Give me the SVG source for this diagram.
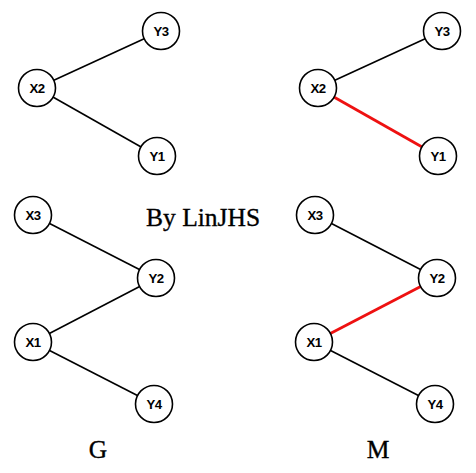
<svg xmlns="http://www.w3.org/2000/svg" width="476" height="473" viewBox="0 0 476 473">
<style>
.edge{stroke:#000;stroke-width:1.6;fill:none}
.match{stroke:#ee1111;stroke-width:2.8;fill:none}
.node circle{fill:#fff;stroke:#000;stroke-width:1.6}
.node text{font-family:"Liberation Sans",Arial,sans-serif;font-weight:bold;font-size:13.2px;text-anchor:middle;dominant-baseline:central;fill:#000;letter-spacing:-0.5px}
.title{font-family:"Liberation Serif","Times New Roman",serif;font-size:25.5px;fill:#000;stroke:#000;stroke-width:0.35}
</style>
<rect width="476" height="473" fill="#fff"/>
<g id="connectors">
<line class="edge" x1="37" y1="88" x2="161" y2="31"/>
<line class="edge" x1="37" y1="88" x2="157" y2="156"/>
<line class="edge" x1="33" y1="215" x2="156" y2="278"/>
<line class="edge" x1="33" y1="342" x2="156" y2="278"/>
<line class="edge" x1="33" y1="342" x2="154" y2="404"/>
<line class="edge" x1="318" y1="88" x2="442" y2="31"/>
<line class="match" x1="318" y1="88" x2="438" y2="156"/>
<line class="edge" x1="315" y1="215" x2="437" y2="278"/>
<line class="match" x1="314" y1="342" x2="437" y2="278"/>
<line class="edge" x1="314" y1="342" x2="435" y2="404"/>
</g>
<g id="G-X2" class="node"><circle cx="37" cy="88" r="18.5"/><text x="37" y="88">X2</text></g>
<g id="G-Y3" class="node"><circle cx="161" cy="31" r="18.5"/><text x="161" y="31">Y3</text></g>
<g id="G-Y1" class="node"><circle cx="157" cy="156" r="18.5"/><text x="157" y="156">Y1</text></g>
<g id="G-X3" class="node"><circle cx="33" cy="215" r="18.5"/><text x="33" y="215">X3</text></g>
<g id="G-Y2" class="node"><circle cx="156" cy="278" r="18.5"/><text x="156" y="278">Y2</text></g>
<g id="G-X1" class="node"><circle cx="33" cy="342" r="18.5"/><text x="33" y="342">X1</text></g>
<g id="G-Y4" class="node"><circle cx="154" cy="404" r="18.5"/><text x="154" y="404">Y4</text></g>
<g id="M-X2" class="node"><circle cx="318" cy="88" r="18.5"/><text x="318" y="88">X2</text></g>
<g id="M-Y3" class="node"><circle cx="442" cy="31" r="18.5"/><text x="442" y="31">Y3</text></g>
<g id="M-Y1" class="node"><circle cx="438" cy="156" r="18.5"/><text x="438" y="156">Y1</text></g>
<g id="M-X3" class="node"><circle cx="315" cy="215" r="18.5"/><text x="315" y="215">X3</text></g>
<g id="M-Y2" class="node"><circle cx="437" cy="278" r="18.5"/><text x="437" y="278">Y2</text></g>
<g id="M-X1" class="node"><circle cx="314" cy="342" r="18.5"/><text x="314" y="342">X1</text></g>
<g id="M-Y4" class="node"><circle cx="435" cy="404" r="18.5"/><text x="435" y="404">Y4</text></g>
<text class="title" x="146" y="226">By LinJHS</text>
<text class="title" x="98" y="458" text-anchor="middle">G</text>
<text class="title" x="378" y="458" text-anchor="middle">M</text>
</svg>
